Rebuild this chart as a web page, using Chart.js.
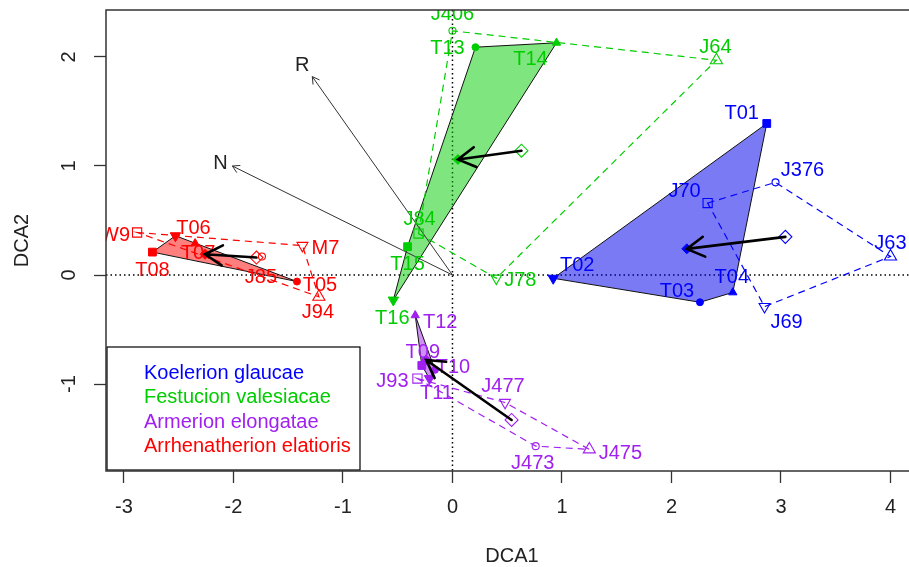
<!DOCTYPE html>
<html><head><meta charset="utf-8">
<script src="https://cdn.jsdelivr.net/npm/chart.js@4.4.0/dist/chart.umd.min.js"></script>
<style>html,body{margin:0;padding:0;background:#fff;}canvas{display:block;}</style>
</head><body>
<canvas id="c" width="909" height="567"></canvas>
<script>
// ---------------- DATA ----------------
const xTicks = [-3, -2, -1, 0, 1, 2, 3, 4];
const yTicks = [-1, 0, 1, 2];
const legendLabels = ['Koelerion glaucae', 'Festucion valesiacae', 'Armerion elongatae', 'Arrhenatherion elatioris'];

// Koelerion glaucae
const koelTNames = ['T01', 'T02', 'T03', 'T04'];
const koelTX = [2.87, 0.92, 2.26, 2.56];
const koelTY = [1.39, -0.03, -0.25, -0.16];
const koelJNames = ['J70', 'J376', 'J63', 'J69'];
const koelJX = [2.33, 2.95, 4.00, 2.85];
const koelJY = [0.66, 0.85, 0.17, -0.29];

// Festucion valesiacae
const festTNames = ['T13', 'T14', 'T15', 'T16'];
const festTX = [0.21, 0.95, -0.41, -0.54];
const festTY = [2.09, 2.13, 0.26, -0.23];
const festJNames = ['J406', 'J64', 'J84', 'J78'];
const festJX = [0.00, 2.41, -0.31, 0.40];
const festJY = [2.24, 1.97, 0.38, -0.03];

// Armerion elongatae
const armTNames = ['T12', 'T09', 'T10', 'T11'];
const armTX = [-0.34, -0.28, -0.16, -0.21];
const armTY = [-0.37, -0.83, -0.87, -0.95];
const armJNames = ['J93', 'J477', 'J473', 'J475'];
const armJX = [-0.32, 0.48, 0.76, 1.25];
const armJY = [-0.95, -1.17, -1.57, -1.60];

// Arrhenatherion elatioris
const arrTNames = ['T08', 'T06', 'T07', 'T05'];
const arrTX = [-2.74, -2.53, -2.35, -1.42];
const arrTY = [0.21, 0.36, 0.29, -0.06];
const arrJNames = ['W9', 'M7', 'J94', 'J85'];
const arrJX = [-2.88, -1.37, -1.22, -1.74];
const arrJY = [0.39, 0.27, -0.20, 0.17];

// group centroids (T = filled diamond, J = open diamond), order as legendLabels
const centroidTX = [2.14, 0.05, -0.24, -2.26];
const centroidTY = [0.24, 1.06, -0.78, 0.19];
const centroidJX = [3.04, 0.63, 0.54, -1.79];
const centroidJY = [0.35, 1.14, -1.33, 0.16];

// environmental vectors
const envNames = ['R', 'N'];
const envX = [-1.28, -2.01];
const envY = [1.82, 1.00];

// ---------------- STYLE ----------------
const FONT = '"Liberation Sans", Arial, Helvetica, sans-serif';
const colors = ['#0000FF', '#00CD00', '#A020F0', '#FF0000'];
const fills = ['rgba(0,0,235,0.52)', 'rgba(0,205,0,0.5)', 'rgba(160,32,240,0.5)', 'rgba(255,0,0,0.5)'];
const markerShape = {
  T01: 'sq', T02: 'dn', T03: 'ci', T04: 'up', J70: 'sq', J376: 'ci', J63: 'up', J69: 'dn',
  T15: 'sq', T13: 'ci', T14: 'up', T16: 'dn', J84: 'sq', J406: 'ci', J64: 'up', J78: 'dn',
  T09: 'sq', T10: 'ci', T12: 'up', T11: 'dn', J93: 'sq', J473: 'ci', J475: 'up', J477: 'dn',
  T08: 'sq', T05: 'ci', T07: 'up', T06: 'dn', W9: 'sq', J85: 'ci', J94: 'up', M7: 'dn'
};
const labelOffset = {
  T01: [-25, -10], T02: [24, -13], T03: [-23, -11], T04: [-1, -15], J70: [-23, -12], J376: [27, -12], J63: [0, -13], J69: [22, 16],
  J406: [0, -16], T13: [-28, 1], T14: [-26, 17], J64: [-1, -13], J84: [1, -14], T15: [0, 18], J78: [24, 2], T16: [-1, 18],
  T12: [25, 7], T09: [1, -13], T10: [18, -2], J93: [-25, 3], T11: [7, 15], J477: [-2, -16], J475: [31, 4], J473: [-3, 17],
  W9: [-22, 3], T06: [18, -7], T08: [0, 18], T07: [3, 10], M7: [23, 3], J85: [-1, 21], T05: [23, 4], J94: [-1, 16],
  R: [-10, -11], N: [-12, -3]
};
const filledR = { sq: 5.5, ci: 3.5, up: 4.8, dn: 6 };
const openR = { sq: 6.5, ci: 3.5, up: 7, dn: 6.3 };

const groups = [
  { tN: koelTNames, tX: koelTX, tY: koelTY, jN: koelJNames, jX: koelJX, jY: koelJY },
  { tN: festTNames, tX: festTX, tY: festTY, jN: festJNames, jX: festJX, jY: festJY },
  { tN: armTNames, tX: armTX, tY: armTY, jN: armJNames, jX: armJX, jY: armJY },
  { tN: arrTNames, tX: arrTX, tY: arrTY, jN: arrJNames, jX: arrJX, jY: arrJY }
];

function styleOf(s) { return s === 'sq' ? 'rect' : s === 'ci' ? 'circle' : 'triangle'; }

const datasets = [];
groups.forEach((g, gi) => {
  const c = colors[gi];
  datasets.push({
    data: g.tN.map((n, i) => ({ x: g.tX[i], y: g.tY[i] })),
    pointStyle: g.tN.map(n => styleOf(markerShape[n])),
    rotation: g.tN.map(n => markerShape[n] === 'dn' ? 180 : 0),
    pointRadius: g.tN.map(n => filledR[markerShape[n]]),
    pointBackgroundColor: c, pointBorderColor: c, pointBorderWidth: 1
  });
  datasets.push({
    data: g.jN.map((n, i) => ({ x: g.jX[i], y: g.jY[i] })),
    pointStyle: g.jN.map(n => styleOf(markerShape[n])),
    rotation: g.jN.map(n => markerShape[n] === 'dn' ? 180 : 0),
    pointRadius: g.jN.map(n => openR[markerShape[n]]),
    pointBackgroundColor: 'rgba(0,0,0,0)', pointBorderColor: c, pointBorderWidth: 1.1
  });
  datasets.push({
    data: [{ x: centroidTX[gi], y: centroidTY[gi] }],
    pointStyle: 'rectRot', pointRadius: 5, pointBackgroundColor: c, pointBorderColor: c, pointBorderWidth: 1
  });
  datasets.push({
    data: [{ x: centroidJX[gi], y: centroidJY[gi] }],
    pointStyle: 'rectRot', pointRadius: 6.5, pointBackgroundColor: 'rgba(0,0,0,0)', pointBorderColor: c, pointBorderWidth: 1.1
  });
});

function hull(pts) {
  const p = pts.slice().sort((a, b) => a[0] - b[0] || a[1] - b[1]);
  const cross = (o, a, b) => (a[0] - o[0]) * (b[1] - o[1]) - (a[1] - o[1]) * (b[0] - o[0]);
  const lo = [], up = [];
  for (const q of p) { while (lo.length >= 2 && cross(lo[lo.length - 2], lo[lo.length - 1], q) <= 0) lo.pop(); lo.push(q); }
  for (let i = p.length - 1; i >= 0; i--) { const q = p[i]; while (up.length >= 2 && cross(up[up.length - 2], up[up.length - 1], q) <= 0) up.pop(); up.push(q); }
  up.pop(); lo.pop();
  return lo.concat(up);
}

function arrow(ctx, x0, y0, x1, y1, len, ang) {
  const a = Math.atan2(y1 - y0, x1 - x0);
  ctx.beginPath();
  ctx.moveTo(x0, y0); ctx.lineTo(x1, y1);
  ctx.moveTo(x1 - len * Math.cos(a - ang), y1 - len * Math.sin(a - ang));
  ctx.lineTo(x1, y1);
  ctx.lineTo(x1 - len * Math.cos(a + ang), y1 - len * Math.sin(a + ang));
  ctx.stroke();
}

const drawPlugin = {
  id: 'ordination',
  beforeDatasetsDraw(chart) {
    const ctx = chart.ctx, a = chart.chartArea, sx = chart.scales.x, sy = chart.scales.y;
    ctx.save();
    ctx.beginPath(); ctx.rect(a.left, a.top, a.right - a.left, a.bottom - a.top); ctx.clip();
    ctx.strokeStyle = '#000'; ctx.lineWidth = 1.5; ctx.setLineDash([1.5, 3]);
    const x0 = sx.getPixelForValue(0), y0 = sy.getPixelForValue(0);
    ctx.beginPath(); ctx.moveTo(x0, a.top); ctx.lineTo(x0, a.bottom); ctx.stroke();
    ctx.beginPath(); ctx.moveTo(a.left, y0); ctx.lineTo(a.right, y0); ctx.stroke();
    ctx.setLineDash([]);
    groups.forEach((g, gi) => {
      const ht = hull(g.tX.map((x, i) => [sx.getPixelForValue(x), sy.getPixelForValue(g.tY[i])]));
      ctx.beginPath(); ht.forEach((p, i) => i ? ctx.lineTo(p[0], p[1]) : ctx.moveTo(p[0], p[1])); ctx.closePath();
      ctx.fillStyle = fills[gi]; ctx.fill();
      ctx.strokeStyle = '#111'; ctx.lineWidth = 1; ctx.stroke();
      const hj = hull(g.jX.map((x, i) => [sx.getPixelForValue(x), sy.getPixelForValue(g.jY[i])]));
      ctx.beginPath(); hj.forEach((p, i) => i ? ctx.lineTo(p[0], p[1]) : ctx.moveTo(p[0], p[1])); ctx.closePath();
      ctx.setLineDash([7, 5]); ctx.strokeStyle = colors[gi]; ctx.lineWidth = 1.2; ctx.stroke(); ctx.setLineDash([]);
    });
    ctx.strokeStyle = '#333'; ctx.lineWidth = 1;
    envX.forEach((ex, i) => {
      arrow(ctx, x0, y0, sx.getPixelForValue(ex), sy.getPixelForValue(envY[i]), 8, Math.PI / 6);
    });
    ctx.restore();
  },
  afterDatasetsDraw(chart) {
    const ctx = chart.ctx, a = chart.chartArea, sx = chart.scales.x, sy = chart.scales.y;
    ctx.save();
    ctx.beginPath(); ctx.rect(a.left, a.top, a.right - a.left, a.bottom - a.top); ctx.clip();
    ctx.font = '20px ' + FONT; ctx.textAlign = 'center'; ctx.textBaseline = 'middle';
    groups.forEach((g, gi) => {
      ctx.fillStyle = colors[gi];
      const lab = (names, xs, ys) => names.forEach((n, i) => {
        const o = labelOffset[n];
        ctx.fillText(n, sx.getPixelForValue(xs[i]) + o[0], sy.getPixelForValue(ys[i]) + o[1]);
      });
      lab(g.tN, g.tX, g.tY); lab(g.jN, g.jX, g.jY);
    });
    ctx.strokeStyle = '#000'; ctx.lineWidth = 2.6; ctx.lineCap = 'round';
    centroidTX.forEach((tx, i) => {
      arrow(ctx, sx.getPixelForValue(centroidJX[i]), sy.getPixelForValue(centroidJY[i]),
        sx.getPixelForValue(tx), sy.getPixelForValue(centroidTY[i]), 20, Math.PI / 6);
    });
    ctx.fillStyle = '#222';
    envNames.forEach((n, i) => {
      const o = labelOffset[n];
      ctx.fillText(n, sx.getPixelForValue(envX[i]) + o[0], sy.getPixelForValue(envY[i]) + o[1]);
    });
    const lx = a.left + 1, lyb = a.bottom - 1, lw = 253, lh = 123, ly = lyb - lh;
    ctx.fillStyle = '#fff'; ctx.fillRect(lx, ly, lw, lh);
    ctx.strokeStyle = '#000'; ctx.lineWidth = 1.2; ctx.strokeRect(lx, ly, lw, lh);
    ctx.textAlign = 'left';
    legendLabels.forEach((t, i) => {
      ctx.fillStyle = colors[i];
      ctx.fillText(t, lx + 37, ly + 26 + i * 24.5);
    });
    ctx.restore();
    ctx.save();
    ctx.strokeStyle = '#333'; ctx.lineWidth = 1.5;
    ctx.beginPath();
    ctx.moveTo(a.right + 2, a.top); ctx.lineTo(a.left, a.top); ctx.lineTo(a.left, a.bottom); ctx.lineTo(a.right + 2, a.bottom);
    ctx.stroke();
    ctx.fillStyle = '#222'; ctx.font = '20px ' + FONT; ctx.textAlign = 'center'; ctx.textBaseline = 'middle';
    sy.ticks.forEach(t => {
      ctx.save(); ctx.translate(69, sy.getPixelForValue(t.value)); ctx.rotate(-Math.PI / 2);
      ctx.fillText(String(t.value), 0, 0); ctx.restore();
    });
    ctx.fillText('DCA1', 512, 556);
    ctx.save(); ctx.translate(22, (a.top + a.bottom) / 2); ctx.rotate(-Math.PI / 2);
    ctx.fillText('DCA2', 0, 0); ctx.restore();
    ctx.restore();
  }
};

new Chart(document.getElementById('c'), {
  type: 'scatter',
  data: { datasets },
  plugins: [drawPlugin],
  options: {
    responsive: false, animation: false, events: [],
    layout: { autoPadding: false, padding: { top: 10, left: 0, right: 0, bottom: 0 } },
    plugins: { legend: { display: false }, tooltip: { enabled: false } },
    scales: {
      x: {
        type: 'linear', min: -3.164, max: 4.169,
        afterBuildTicks: s => { s.ticks = xTicks.map(v => ({ value: v })); },
        afterFit: s => { s.height = 96; s.paddingLeft = 0; s.paddingRight = 0; },
        grid: { display: true, drawOnChartArea: false, drawTicks: true, tickLength: 12, tickColor: '#333', tickWidth: 1.3 },
        border: { display: false },
        ticks: { autoSkip: false, maxRotation: 0, padding: 12, color: '#222', font: { family: FONT, size: 20 } }
      },
      y: {
        type: 'linear', min: -1.798, max: 2.431,
        afterBuildTicks: s => { s.ticks = yTicks.map(v => ({ value: v })); },
        afterFit: s => { s.width = 106; s.paddingTop = 0; s.paddingBottom = 0; },
        grid: { display: true, drawOnChartArea: false, drawTicks: true, tickLength: 12, tickColor: '#333', tickWidth: 1.3 },
        border: { display: false },
        ticks: { callback: () => '', font: { family: FONT, size: 20 } }
      }
    }
  }
});
</script>
</body></html>
